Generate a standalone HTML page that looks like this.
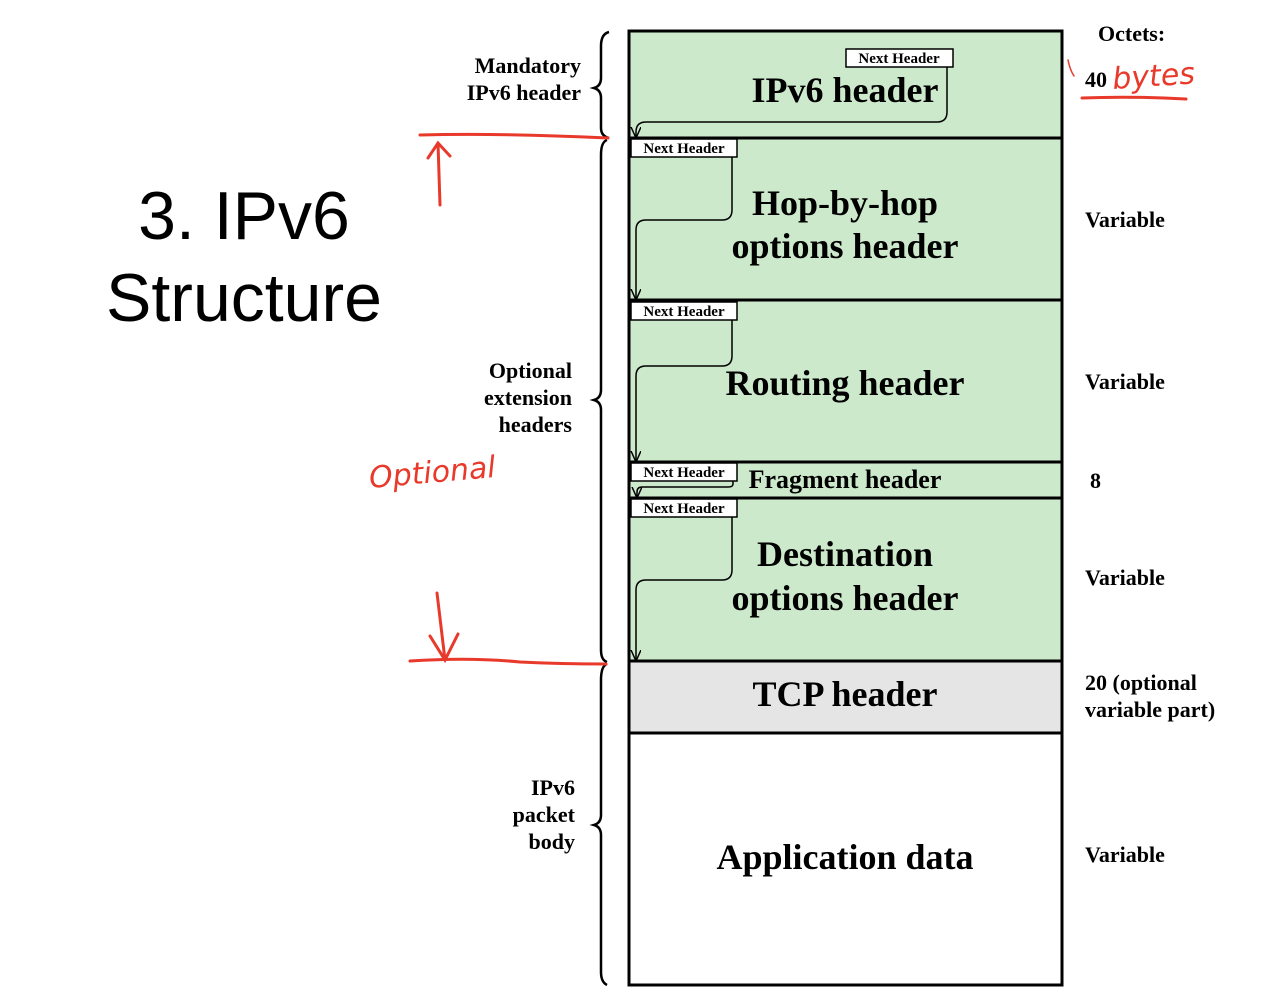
<!DOCTYPE html>
<html><head><meta charset="utf-8"><style>
html,body{margin:0;padding:0;background:#fff;width:1261px;height:1000px;overflow:hidden}
svg{display:block}
.s{font-family:"Liberation Serif",serif;font-weight:bold;fill:#000}
.nh{font-family:"Liberation Serif",serif;font-weight:bold;font-size:15px}
</style></head><body>
<svg width="1261" height="1000" viewBox="0 0 1261 1000">
<defs><marker id="a" markerWidth="12" markerHeight="12" refX="11" refY="5" orient="auto" markerUnits="userSpaceOnUse"><path d="M0,0 L11,5 L0,10" fill="none" stroke="#000" stroke-width="1.5"/></marker></defs>
<rect x="629" y="31" width="433" height="630" fill="#cce9cb"/>
<rect x="629" y="661" width="433" height="72" fill="#e5e5e5"/>
<g stroke="#000" stroke-width="3" fill="none">
<rect x="629" y="31" width="433" height="954"/>
<line x1="629" y1="138" x2="1062" y2="138"/>
<line x1="629" y1="300" x2="1062" y2="300"/>
<line x1="629" y1="462" x2="1062" y2="462"/>
<line x1="629" y1="498" x2="1062" y2="498"/>
<line x1="629" y1="661" x2="1062" y2="661"/>
<line x1="629" y1="733" x2="1062" y2="733"/>
</g>
<g fill="#fff" stroke="#000" stroke-width="1.5">
<rect x="846" y="49" width="107" height="18"/>
<rect x="631" y="139" width="106" height="18"/>
<rect x="631" y="302" width="106" height="18"/>
<rect x="631" y="463" width="106" height="18"/>
<rect x="631" y="499" width="106" height="18"/>
</g>
<g class="nh">
<text x="899" y="63" text-anchor="middle">Next Header</text>
<text x="684" y="153" text-anchor="middle">Next Header</text>
<text x="684" y="316" text-anchor="middle">Next Header</text>
<text x="684" y="477" text-anchor="middle">Next Header</text>
<text x="684" y="513" text-anchor="middle">Next Header</text>
</g>
<g stroke="#000" stroke-width="1.5" fill="none" marker-end="url(#a)">
<path d="M947,67 V112 Q947,122 937,122 H646 Q636,122 636,132 V138"/>
<path d="M732,157 V210 Q732,220 722,220 H646 Q636,220 636,230 V300"/>
<path d="M732,320 V356 Q732,366 722,366 H646 Q636,366 636,376 V462"/>
<path d="M733,481 V484 Q733,487 728,487 H642 Q637,487 637,492 V498"/>
<path d="M732,517 V570 Q732,580 722,580 H646 Q636,580 636,590 V661"/>
</g>
<g class="s" font-size="36" text-anchor="middle">
<text x="845" y="102">IPv6 header</text>
<text x="845" y="215">Hop-by-hop</text>
<text x="845" y="258">options header</text>
<text x="845" y="395">Routing header</text>
<text x="845" y="566">Destination</text>
<text x="845" y="610">options header</text>
<text x="845" y="706">TCP header</text>
<text x="845" y="869">Application data</text>
</g>
<text class="s" x="845" y="488" font-size="26" text-anchor="middle">Fragment header</text>
<g class="s" font-size="22">
<text x="1098" y="41">Octets:</text>
<text x="1085" y="87">40</text>
<text x="1085" y="227">Variable</text>
<text x="1085" y="389">Variable</text>
<text x="1090" y="488">8</text>
<text x="1085" y="585">Variable</text>
<text x="1085" y="690">20 (optional</text>
<text x="1085" y="717">variable part)</text>
<text x="1085" y="862">Variable</text>
</g>
<g class="s" font-size="22" text-anchor="end">
<text x="581" y="73">Mandatory</text>
<text x="581" y="100">IPv6 header</text>
<text x="572" y="378">Optional</text>
<text x="572" y="405">extension</text>
<text x="572" y="432">headers</text>
<text x="575" y="795">IPv6</text>
<text x="575" y="822">packet</text>
<text x="575" y="849">body</text>
</g>
<g stroke="#000" stroke-width="2.5" fill="none">
<path d="M609,32 Q601,34 601,46 V78 Q601,86 594,88 Q601,90 601,98 V128 Q601,136 609,138"/>
<path d="M607,140 Q601,142 601,155 V390 Q601,398 594,400 Q601,402 601,410 V650 Q601,660 607,662"/>
<path d="M607,664 Q601,666 601,680 V815 Q601,823 594,825 Q601,827 601,835 V972 Q601,982 607,985"/>
</g>
<g font-family="Liberation Sans,sans-serif" font-size="68" text-anchor="middle" fill="#000">
<text x="244" y="239">3. IPv6</text>
<text x="244" y="321">Structure</text>
</g>
<g stroke="#e8392b" stroke-width="3" fill="none" stroke-linecap="round">
<path d="M420,135 Q500,133 608,138"/>
<path d="M440,205 L438,143 M428,158 L438,143 L450,156"/>
<path d="M410,661 Q470,657 520,662 Q560,664 606,664"/>
<path d="M437,593 L445,660 M430,636 L445,660 L458,634"/>
<path d="M1082,98 Q1130,96 1186,99"/>
<path d="M1068,60 Q1070,70 1074,76" stroke-width="1.5"/>
</g>
<text x="1113" y="89" font-family="DejaVu Sans,sans-serif" font-style="italic" font-size="30" fill="#e8392b" transform="rotate(-4 1113 89)">bytes</text>
<text x="370" y="488" font-family="DejaVu Sans,sans-serif" font-style="italic" font-size="30" fill="#e8392b" transform="rotate(-5 370 488)">Optional</text>
</svg>
</body></html>
